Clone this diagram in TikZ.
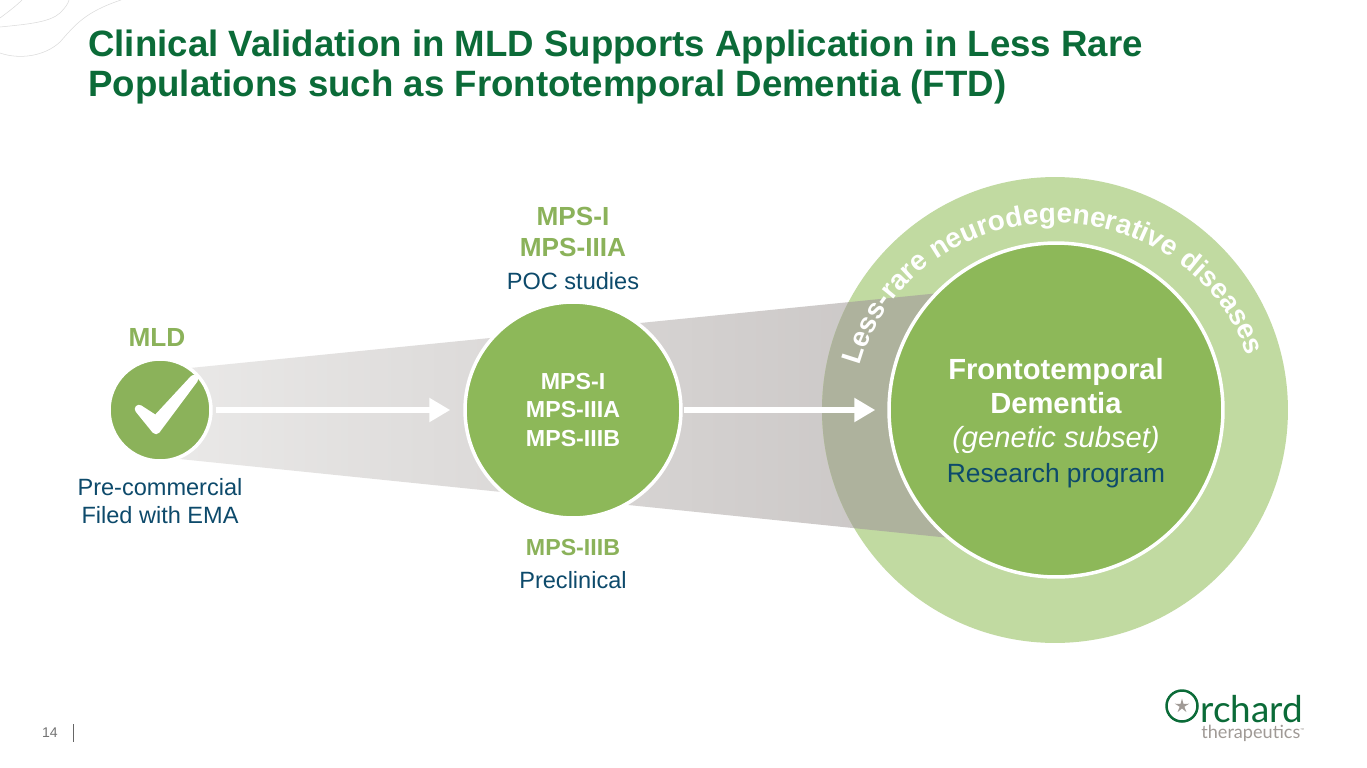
\documentclass[tikz,border=0pt]{standalone}
\usepackage{fontspec}
\setmainfont{Liberation Sans}
\newfontfamily\logofont{Lato}
\usetikzlibrary{
  shapes.geometric,
  arrows.meta,
  decorations.text
}
\definecolor{titlegreen}{HTML}{0B6B38}
\definecolor{leafgreen}{HTML}{8BB25A}
\definecolor{circlegreen}{HTML}{8DB859}
\definecolor{palegreen}{HTML}{C1DAA1}
\definecolor{inkblue}{HTML}{0D4A6B}
\definecolor{funnellight}{HTML}{EAE9E8}
\definecolor{funneldark}{HTML}{C8C4C3}
\definecolor{funnelover}{HTML}{AEB29D}
\definecolor{logogrey}{HTML}{A09A96}

\begin{document}
\begin{tikzpicture}[
  x=0.02cm, y=-0.02cm,
  my_circle/.style={
    draw=white,
    circle,
    line width=0.07cm,
    inner sep=0pt,
    fill=circlegreen,
  },
  green_head/.style={
    text=leafgreen,
    align=center,
    font=\bfseries\fontsize{14.9}{18.1}\selectfont,
  },
  blue_label/.style={
    text=inkblue,
    align=center,
    font=\fontsize{13.4}{16}\selectfont,
  },
  white_arrow/.style={
    draw=white,
    line width=0.12cm,
    -{Triangle[width=0.46cm,length=0.42cm]},
  }
  ]

  \path[use as bounding box, fill=white] (0,0) rectangle (1367,768);

  % corner lines
  \draw[black!14, line width=0.3pt] (0,27) .. controls (30,24) and (50,22) .. (60,13) .. controls (65,8) and (68,4) .. (69,0);
  \draw[black!14, line width=0.3pt] (0,53) .. controls (20,60) and (45,56) .. (60,42) .. controls (75,25) and (85,12) .. (121,0);
  \draw[black!14, line width=0.3pt] (0,18) .. controls (8,12) and (16,6) .. (22,0);

  \node[anchor=north west, text=titlegreen, align=left, inner sep=0pt,
    font=\bfseries\fontsize{20.85}{22.7}\selectfont] (title) at (88,30)
    {Clinical Validation in MLD Supports Application in Less Rare\\
     Populations such as Frontotemporal Dementia (FTD)};

  % funnel
  \path[left color=funnellight, right color=funneldark] (165,370.5) -- (960,291) -- (960,539) -- (165,457.5) -- cycle;

  \node[circle, fill=palegreen, inner sep=0pt, minimum size=9.32cm] (less_rare) at (1055,410) {};
  \begin{scope}
    \clip (1055,410) circle[radius=233];
    \fill[funnelover] (165,370.5) -- (960,291) -- (960,539) -- (165,457.5) -- cycle;
  \end{scope}

  \node[my_circle, minimum size=6.68cm] (ftd) at (1056,410) {};
  \node[my_circle, minimum size=4.32cm] (mps) at (573,410) {};
  \node[my_circle, minimum size=2.04cm, fill=leafgreen] (mld) at (160,410) {};

  \draw[white_arrow, shorten <=0.06cm, shorten >=0.26cm] (mld) -- (mps);
  \draw[white_arrow, shorten <=0.02cm, shorten >=0.24cm] (mps) -- (ftd);

  \filldraw[white, line width=0.17cm, line join=round] (139,409) -- (156,430) -- (194,379) -- (156,420) -- cycle;

  \path[decorate, decoration={
      text along path,
      text align=center,
      text={|\bfseries\fontsize{15.9}{18}\selectfont\color{white}|Less-rare neurodegenerative diseases}
    }] (1055,412) ++(196:201 and 189) arc[start angle=196, end angle=341, x radius=201, y radius=189];

  \node[green_head] (mld_name) at (157,337) {MLD};
  \node[blue_label] (mld_status) at (160,501) {Pre-commercial\\Filed with EMA};

  \node[green_head] (mps_top) at (573,232) {MPS-I\\MPS-IIIA};
  \node[blue_label] (mps_poc) at (573,281) {POC studies};
  \node[green_head, font=\bfseries\fontsize{13.2}{16}\selectfont] (mps_bottom) at (573,548) {MPS-IIIB};
  \node[blue_label] (mps_pre) at (573,580) {Preclinical};

  \node[text=white, align=center, font=\bfseries\fontsize{13.2}{16}\selectfont] (mps_text) at (573,410) {MPS-I\\MPS-IIIA\\MPS-IIIB};

  \node[text=white, align=center, font=\fontsize{16.6}{19.5}\selectfont] (ftd_text) at (1056,423)
    {\textbf{Frontotemporal}\\\textbf{Dementia}\\\textit{(genetic subset)}\\\textcolor{inkblue}{\fontsize{15}{19.5}\selectfont Research program}};

  % footer
  \node[text=black!55, font=\fontsize{8}{10}\selectfont] (page) at (50,733) {14};
  \draw[black!60, line width=0.4pt] (73,724) -- (73,742);

  % logo
  \node[circle, draw=titlegreen, line width=0.05cm, inner sep=0pt, minimum size=0.62cm] (logo_ring) at (1182,706) {};
  \node[star, star points=5, star point ratio=3, fill=logogrey, inner sep=0pt, minimum size=0.3cm] (logo_star) at (logo_ring) {};
  \node[anchor=base west, inner sep=0pt, text=titlegreen, font=\logofont\fontsize{21}{24}\selectfont] (logo_name) at (1200,722) {rchard};
  \node[anchor=base west, inner sep=0pt, text=logogrey, font=\logofont\fontsize{10.3}{12}\selectfont] (logo_sub) at (1201,738) {therapeutics\raisebox{3pt}{\fontsize{3}{3}\selectfont ™}};

\end{tikzpicture}
\end{document}
